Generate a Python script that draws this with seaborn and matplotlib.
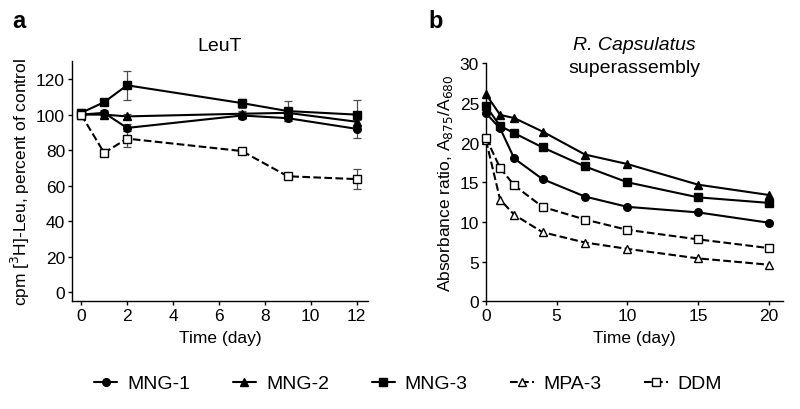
import seaborn as sns
import pandas as pd
import numpy as np
import matplotlib.pyplot as plt
from matplotlib.lines import Line2D

# Panel a: LeuT activity (percent of control)
days_a = [0, 1, 2, 7, 9, 12]
leut_mng1 = [100, 101, 92.5, 99.5, 98, 92]
leut_mng2 = [100, 100, 99, 100.5, 101, 96]
leut_mng3 = [101, 107, 116.5, 106.5, 102, 100]
leut_ddm = [100, 78.5, 86.5, 79.5, 65.3, 63.7]
err_mng1 = [1.5, 1.5, 2, 2, 1.5, 5]
err_mng2 = [1.5, 2, 1.5, 1.5, 1.5, 2]
err_mng3 = [2, 1, 8, 2.5, 5.5, 8]
err_ddm = [2, 2, 4.5, 1, 1, 5.5]

# Panel b: R. capsulatus superassembly absorbance ratio
days_b = [0, 1, 2, 4, 7, 10, 15, 20]
rc_mng1 = [23.7, 21.8, 18.0, 15.4, 13.2, 11.9, 11.2, 9.9]
rc_mng2 = [26.1, 23.5, 23.1, 21.4, 18.5, 17.3, 14.7, 13.4]
rc_mng3 = [24.6, 22.1, 21.2, 19.4, 17.0, 15.0, 13.1, 12.4]
rc_mpa3 = [20.3, 12.8, 10.9, 8.7, 7.4, 6.6, 5.4, 4.6]
rc_ddm = [20.6, 16.8, 14.6, 11.9, 10.3, 9.0, 7.8, 6.7]

styles = {
    'MNG-1': dict(marker='o', ls='-', mfc='black'),
    'MNG-2': dict(marker='^', ls='-', mfc='black'),
    'MNG-3': dict(marker='s', ls='-', mfc='black'),
    'MPA-3': dict(marker='^', ls='--', mfc='white'),
    'DDM': dict(marker='s', ls='--', mfc='white'),
}

sns.set_style("ticks")
plt.rcParams['font.family'] = ['Liberation Sans', 'DejaVu Sans']
plt.rcParams['font.size'] = 12.5
for k in ('text.color', 'axes.labelcolor', 'xtick.color', 'ytick.color', 'axes.edgecolor'):
    plt.rcParams[k] = 'black'

fig = plt.figure(figsize=(8, 4.1), dpi=100)
ax_a = fig.add_axes([0.09, 0.263, 0.37, 0.585])
ax_b = fig.add_axes([0.6075, 0.263, 0.371, 0.58])

# panel a
series_a = [('MNG-1', leut_mng1, err_mng1), ('MNG-2', leut_mng2, err_mng2),
            ('MNG-3', leut_mng3, err_mng3), ('DDM', leut_ddm, err_ddm)]
for name, vals, errs in series_a:
    st = styles[name]
    ax_a.errorbar(days_a, vals, yerr=errs, fmt='none', ecolor='0.3',
                  elinewidth=0.9, capsize=3, capthick=0.9, zorder=1)
    sns.lineplot(x=days_a, y=vals, ax=ax_a, color='black', lw=1.5,
                 marker=st['marker'], linestyle=st['ls'], markersize=5.5,
                 markerfacecolor=st['mfc'], markeredgecolor='black',
                 markeredgewidth=1, zorder=3)
ax_a.set_xlim(-0.4, 12.5)
ax_a.set_ylim(-5, 130)
ax_a.set_xticks(range(0, 13, 2))
ax_a.set_yticks(range(0, 121, 20))
ax_a.set_xlabel("Time (day)")
ax_a.set_ylabel("cpm [$^3$H]-Leu, percent of control")
ax_a.set_title("LeuT", fontsize=14, pad=8)

# panel b
series_b = [('MNG-1', rc_mng1), ('MNG-2', rc_mng2), ('MNG-3', rc_mng3),
            ('MPA-3', rc_mpa3), ('DDM', rc_ddm)]
for name, vals in series_b:
    st = styles[name]
    sns.lineplot(x=days_b, y=vals, ax=ax_b, color='black', lw=1.5,
                 marker=st['marker'], linestyle=st['ls'], markersize=5.5,
                 markerfacecolor=st['mfc'], markeredgecolor='black',
                 markeredgewidth=1, zorder=3, clip_on=False)
ax_b.set_xlim(0, 21)
ax_b.set_ylim(0, 30)
ax_b.set_xticks(range(0, 21, 5))
ax_b.set_yticks(range(0, 31, 5))
ax_b.set_xlabel("Time (day)")
ax_b.set_ylabel("Absorbance ratio, A$_{875}$/A$_{680}$")
ax_b.text(0.5, 1.06, "R. Capsulatus", style='italic', fontsize=14,
          ha='center', transform=ax_b.transAxes)
ax_b.text(0.5, 0.965, "superassembly", fontsize=14,
          ha='center', transform=ax_b.transAxes)

for ax in (ax_a, ax_b):
    sns.despine(ax=ax)
    ax.tick_params(length=3, width=1, pad=2, labelsize=12.5)
    for sp in ax.spines.values():
        sp.set_linewidth(1)
    ax.xaxis.labelpad = 5
    ax.yaxis.labelpad = 3

fig.text(0.015, 0.975, "a", fontsize=17, fontweight='bold', va='top')
fig.text(0.535, 0.975, "b", fontsize=17, fontweight='bold', va='top')

handles = [Line2D([], [], color='black', lw=1.5, marker=styles[n]['marker'],
                  linestyle=styles[n]['ls'], markersize=5.5,
                  markerfacecolor=styles[n]['mfc'], markeredgecolor='black')
           for n in styles]
fig.legend(handles, list(styles), loc='center', bbox_to_anchor=(0.51, 0.062),
           ncol=5, frameon=False, handlelength=1.2, handletextpad=0.5,
           columnspacing=2.2, prop={'size': 14})

fig.savefig("out.png", dpi=100)
plt.close(fig)
